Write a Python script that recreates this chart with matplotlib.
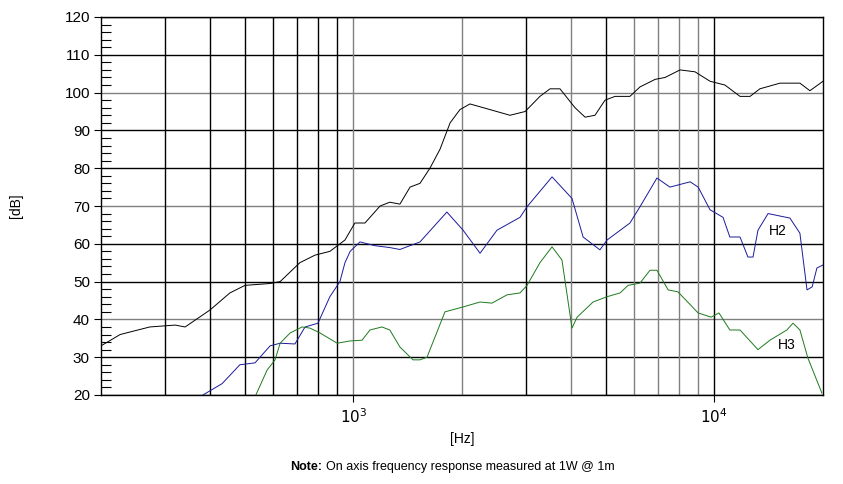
import matplotlib
matplotlib.use("Agg")
import matplotlib.pyplot as plt
from matplotlib.ticker import FixedLocator

plt.rcParams["font.family"] = "Liberation Sans"

f_main = [200,226,273,321,342,401,455,501,588,627,711,783,861,948,1010,1077,1186,1262,1346,1436,1530,1630,1738,1854,1974,2104,2392,2716,2992,3288,3506,3736,4112,4386,4670,4980,5308,5838,6223,6855,7300,8036,8840,9730,10700,11780,12560,13370,15200,17260,18400,20000]
db_main = [33,36,38,38.5,38,42.5,47,49,49.5,50,55,57,58,61,65.5,65.5,70,71,70.5,75,76,80,85,92,95.5,97,95.5,94,95,99,101,101,96,93.5,94,98,99,99,101.5,103.5,104,106,105.5,103,102,99,99,101,102.5,102.5,100.5,103]

f_h2 = [383,433,485,534,588,627,689,735,798,861,918,948,980,1043,1148,1262,1346,1530,1816,2014,2244,2500,2896,3028,3552,4034,4330,4820,5045,5838,6223,6935,7534,8570,9020,9730,10570,11040,11780,12390,12800,13210,14090,16200,17260,18060,18660,19240,20000]
db_h2 = [20,23,28,28.5,33,33.7,33.5,38,39,46,50,55,58,60.5,59.5,59,58.5,60.5,68.4,63.6,57.5,63.6,67,69.8,77.7,72,61.8,58.4,61,65.5,69.8,77.4,75,76.4,75,69,67,61.8,61.8,56.5,56.5,63.6,68,66.8,62.8,47.8,48.6,53.6,54.4]

f_h3 = [537,577,607,627,668,721,758,809,902,980,1057,1112,1200,1262,1346,1463,1530,1600,1794,2014,2244,2420,2666,2896,3028,3288,3552,3784,4034,4168,4614,5045,5480,5768,6223,6634,6935,7448,7926,9020,9800,10300,11040,11780,13210,14260,15880,16520,17260,18160,19860]
db_h3 = [20,26.6,29.3,33.7,36.4,38,37.7,36.4,33.7,34.3,34.5,37.2,38,37.2,32.7,29.3,29.3,30,42,43.3,44.6,44.3,46.5,47,49,55,59.2,55.7,37.7,40.6,44.6,46,47,49,49.6,53,53,47.8,47.3,41.7,40.6,41.7,37.2,37.2,32,34.5,37.2,39,37.2,29.8,20.5]

y_ticks = [20,30,40,50,60,70,80,90,100,110,120]
x_grid = [300,400,500,600,700,800,900,1000,2000,3000,4000,5000,6000,7000,8000,9000,10000]
x_grid_gray = [1000,2000,4000,6000,7000,8000,9000]
y_grid_gray = [40,70,100]

fig = plt.figure(figsize=(8.43,4.84), dpi=100)
ax = fig.add_axes([101/843, 89/484, 722/843, 378/484])
ax.set_xscale("log")
ax.set_xlim(200,20000)
ax.set_ylim(20,120)

for y in y_ticks:
    ax.axhline(y, color="#808080" if y in y_grid_gray else "black", lw=1.0, zorder=1)
for x in x_grid:
    ax.axvline(x, color="#808080" if x in x_grid_gray else "black", lw=1.0, zorder=1)

ax.plot(f_main, db_main, color="black", lw=0.7, zorder=3)
ax.plot(f_h2, db_h2, color="#1a1a9a", lw=0.7, zorder=3)
ax.plot(f_h3, db_h3, color="#1e7a1e", lw=0.7, zorder=3)
ax.text(15000, 63.4, "H2", fontsize=10, ha="center", va="center")
ax.text(15900, 33.2, "H3", fontsize=10, ha="center", va="center")

for s in ax.spines.values():
    s.set_linewidth(1.0)
ax.set_yticks(y_ticks)
ax.yaxis.set_minor_locator(FixedLocator([v for v in range(20,121,2) if v % 10]))
ax.tick_params(axis="y", which="major", direction="out", length=5, labelsize=11, pad=3)
ax.tick_params(axis="y", which="minor", direction="in", length=7, width=0.8)
ax.xaxis.set_major_locator(FixedLocator([1000,10000]))
ax.xaxis.set_minor_locator(FixedLocator([]))
ax.set_xticklabels(["$10^3$","$10^4$"])
ax.tick_params(axis="x", which="major", direction="out", length=5, labelsize=11)
ax.set_ylabel("[dB]", fontsize=10, labelpad=30)
ax.set_xlabel("[Hz]", fontsize=10, labelpad=5)

fig.text(290/843, 17/484, "Note:", fontsize=9, fontweight="bold", ha="left", va="center")
fig.text(326/843, 17/484, "On axis frequency response measured at 1W @ 1m", fontsize=9, ha="left", va="center")

fig.savefig("out.png", dpi=100, facecolor="white")
